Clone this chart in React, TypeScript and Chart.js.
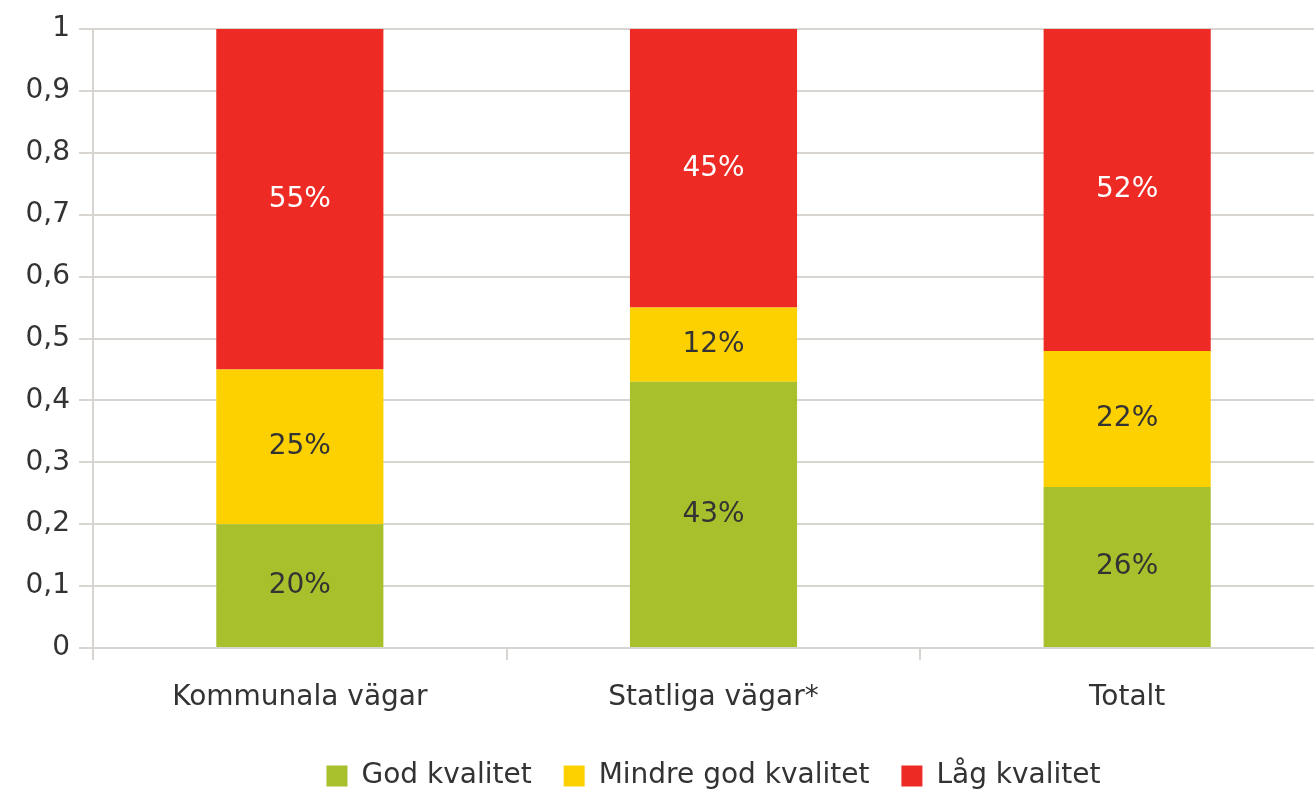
import React, { useEffect, useRef } from "react";
import { Chart, registerables } from "chart.js";

Chart.register(...registerables);

const categories = ["Kommunala vägar", "Statliga vägar*", "Totalt"];
const seriesNames = ["God kvalitet", "Mindre god kvalitet", "Låg kvalitet"];
const godValues = [0.2, 0.43, 0.26];
const mindreValues = [0.25, 0.12, 0.22];
const lagValues = [0.55, 0.45, 0.52];
const yTickLabels = ["0", "0,1", "0,2", "0,3", "0,4", "0,5", "0,6", "0,7", "0,8", "0,9", "1"];

const seriesColors = ["#A8C02B", "#FDD100", "#EE2A24"];
const labelColors = ["#333333", "#333333", "#FFFFFF"];
const gridColor = "#D8D4CF";
const textColor = "#333333";
const FONT = "'DejaVu Sans'";
const FONT_SIZE = 28;

const dataLabelPlugin = {
  id: "dataLabels",
  afterDatasetsDraw(chart: any) {
    const ctx = chart.ctx;
    ctx.save();
    ctx.font = `${FONT_SIZE}px ${FONT}`;
    ctx.textAlign = "center";
    ctx.textBaseline = "middle";
    chart.data.datasets.forEach((ds: any, di: number) => {
      const meta = chart.getDatasetMeta(di);
      meta.data.forEach((el: any, i: number) => {
        const v = ds.data[i];
        const props = el.getProps(["x", "y", "base"], true);
        ctx.fillStyle = labelColors[di];
        ctx.fillText(`${Math.round(v * 100)}%`, props.x, (props.y + props.base) / 2);
      });
    });
    ctx.restore();
  },
};

export default function App() {
  const ref = useRef<HTMLCanvasElement>(null);

  useEffect(() => {
    if (!ref.current) return;
    const chart = new Chart(ref.current, {
      type: "bar",
      data: {
        labels: categories,
        datasets: [
          { label: seriesNames[0], data: godValues, backgroundColor: seriesColors[0] },
          { label: seriesNames[1], data: mindreValues, backgroundColor: seriesColors[1] },
          { label: seriesNames[2], data: lagValues, backgroundColor: seriesColors[2] },
        ],
      },
      options: {
        responsive: false,
        devicePixelRatio: 1,
        animation: false,
        datasets: {
          bar: { categoryPercentage: 0.8, barPercentage: 0.505 },
        },
        layout: { padding: { top: 29, right: 0, left: 0, bottom: 0 } },
        plugins: {
          tooltip: { enabled: false },
          legend: {
            position: "bottom",
            fullSize: false,
            labels: {
              boxWidth: 21,
              boxHeight: 21,
              padding: 32,
              color: textColor,
              font: { family: FONT, size: FONT_SIZE },
            },
          },
        },
        scales: {
          x: {
            stacked: true,
            offset: true,
            grid: {
              offset: true,
              drawOnChartArea: false,
              drawTicks: true,
              tickLength: 12,
              color: gridColor,
              lineWidth: 2,
            },
            border: { display: false },
            ticks: {
              color: textColor,
              font: { family: FONT, size: FONT_SIZE },
              padding: 21,
            },
            afterFit: (scale: any) => {
              scale.height = 82;
            },
          },
          y: {
            stacked: true,
            min: 0,
            max: 1,
            ticks: {
              stepSize: 0.1,
              color: textColor,
              font: { family: FONT, size: FONT_SIZE },
              padding: 9,
              callback: (value: any) => yTickLabels[Math.round(Number(value) * 10)],
            },
            grid: {
              color: gridColor,
              lineWidth: 2,
              tickLength: 14,
            },
            border: { display: true, color: gridColor, width: 2 },
            afterFit: (scale: any) => {
              scale.width = 93;
            },
          },
        },
      },
      plugins: [dataLabelPlugin],
    });
    return () => chart.destroy();
  }, []);

  return (
    <div
      style={{
        position: "fixed",
        left: 0,
        top: 0,
        width: 1314,
        height: 792,
        overflow: "hidden",
        background: "#ffffff",
      }}
    >
      <canvas ref={ref} width={1334} height={800} style={{ display: "block" }} />
    </div>
  );
}
